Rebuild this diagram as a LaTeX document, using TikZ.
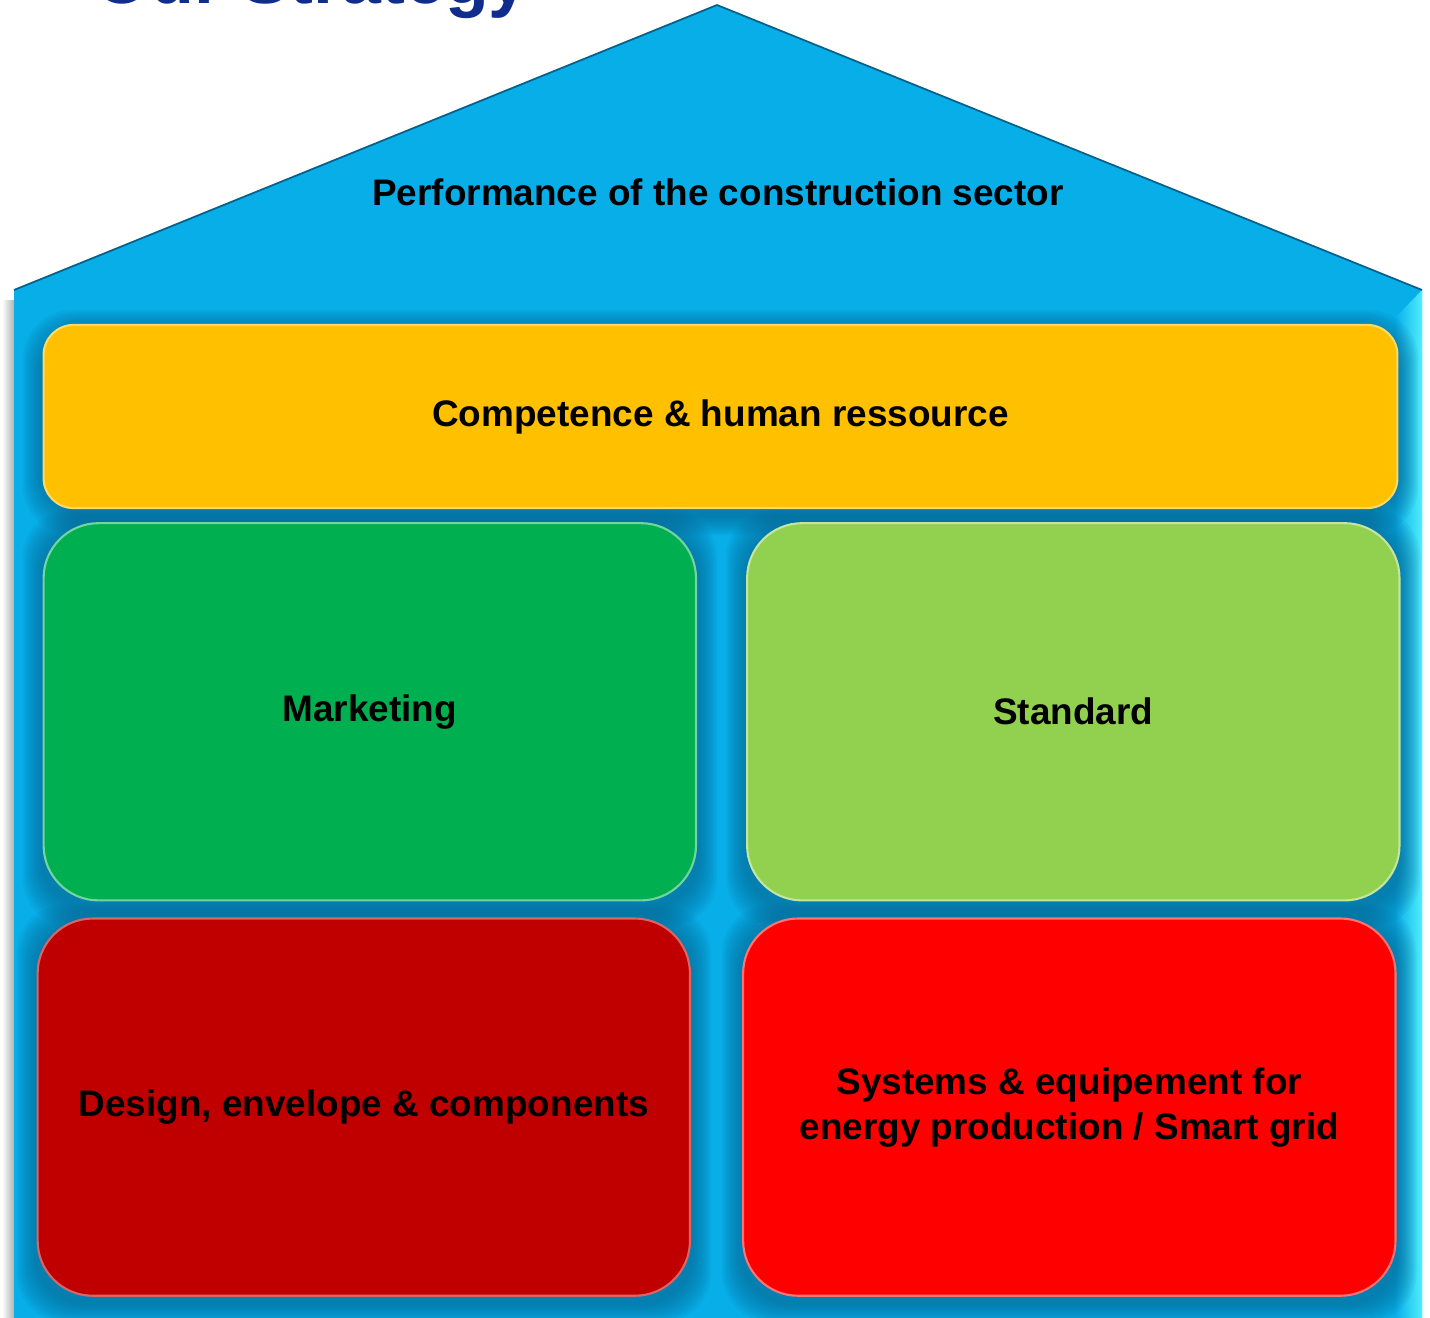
\documentclass[tikz,border=0pt]{standalone}
\usepackage{fontspec}
\setmainfont{Liberation Sans}
\usetikzlibrary{positioning,backgrounds}

\definecolor{roofblue}{RGB}{8,174,232}
\definecolor{shadeblue}{RGB}{4,96,140}
\definecolor{bevelcyan}{RGB}{80,238,255}
\definecolor{titleblue}{RGB}{16,44,140}
\definecolor{compyellow}{RGB}{255,192,0}
\definecolor{mktgreen}{RGB}{0,176,80}
\definecolor{stdgreen}{RGB}{146,208,80}
\definecolor{designred}{RGB}{192,0,0}
\definecolor{sysred}{RGB}{255,0,0}

\tikzset{
  label font/.style={font=\fontsize{10.5}{12.8}\selectfont\bfseries, text=black},
  block/.style={label font, rounded corners=0.55cm, minimum width=6.52cm,
    minimum height=3.77cm, inner sep=0pt, align=center, line width=0.6pt},
  wide/.style={block, rounded corners=0.3cm, minimum width=13.53cm,
    minimum height=1.83cm},
}

\begin{document}
\begin{tikzpicture}[x=0.01cm, y=-0.01cm]
  \useasboundingbox (0,0) rectangle (1430,1318);

  % house
  \begin{pgfonlayer}{background}
    \shade[left color=white, right color=black!30] (2,300) rectangle (14,1318);
    \fill[roofblue] (14,290) -- (717,5) -- (1422,290) -- (1422,1330) -- (14,1330) -- cycle;
    \shade[left color=roofblue, right color=bevelcyan] (1395,318) -- (1422,290) -- (1422,1330) -- (1395,1330) -- cycle;
    \draw[shadeblue, line width=0.5pt] (14,290) -- (717,5) -- (1422,290);
  \end{pgfonlayer}

  \node (title) [anchor=base west, font=\fontsize{20.4}{24}\selectfont\bfseries, text=titleblue] at (82,4) {Our Strategy};
  \node (perf) [label font] at (718,192) {Performance of the construction sector};

  \node (comp) [wide, fill=compyellow, draw=compyellow!60!white] at (720.5,416.5) {Competence \& human ressource};
  \node (mkt) [block, fill=mktgreen, draw=mktgreen!55!white, below=0.13cm of comp, xshift=-3.505cm] {Marketing};
  \node (std) [block, fill=stdgreen, draw=stdgreen!55!white, right=0.49cm of mkt] {Standard};
  \node (design) [block, fill=designred, draw=designred!60!white, below=0.16cm of mkt, xshift=-0.06cm] {Design, envelope \& components};
  \node (sys) [block, fill=sysred, draw=sysred!55!white, right=0.51cm of design] {Systems \& equipement for\\energy production / Smart grid};

  % soft shadows under the boxes
  \begin{pgfonlayer}{background}
    \foreach \b in {comp,mkt,std,design,sys}
      \foreach \i in {1,...,10}
        \fill[shadeblue, opacity=0.08, rounded corners=0.5cm]
          ([shift={(-\i*2,-\i*2+6)}]\b.north west) rectangle ([shift={(\i*2,\i*2+6)}]\b.south east);
  \end{pgfonlayer}
\end{tikzpicture}
\end{document}
